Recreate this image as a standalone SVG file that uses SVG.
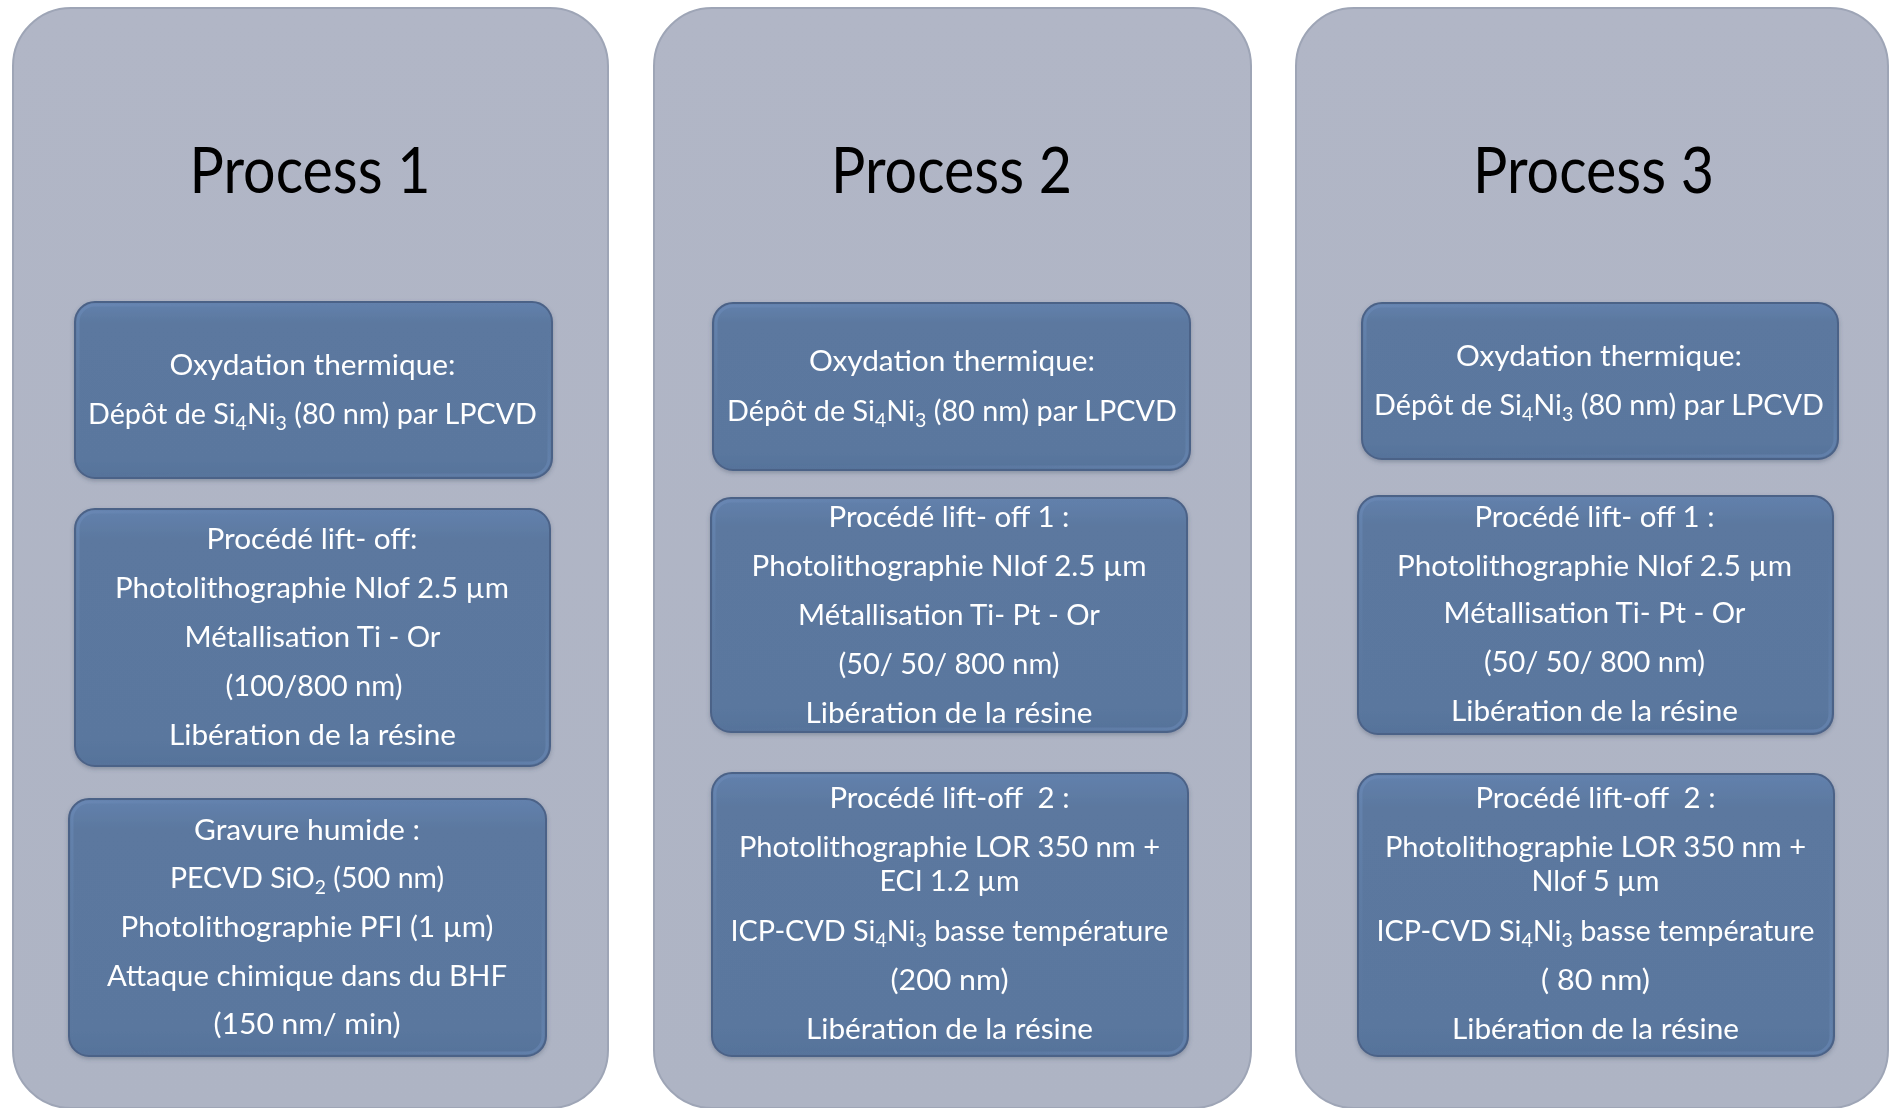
<svg xmlns="http://www.w3.org/2000/svg" width="1893" height="1108" viewBox="0 0 1893 1108">
  <style>
    .panel { fill: url(#panelFill); stroke: #9ea5b6; stroke-width: 2; }
    .box { fill: url(#boxFill); stroke: #4c6287; stroke-width: 2; }
    .bevel { fill: none; stroke: url(#bevelStroke); stroke-width: 3; }
    .title { font-family: Lato, "Open Sans", "Liberation Sans", sans-serif; font-size: 64px; fill: #000; text-anchor: middle; }
    .t { font-family: Lato, "Open Sans", "Liberation Sans", sans-serif; font-size: 28px; fill: #fff; text-anchor: middle; }
    .sub { font-size: 19px; }
  </style>
  <defs>
    <linearGradient id="panelFill" x1="0" y1="0" x2="0" y2="1">
      <stop offset="0" stop-color="#b1b6c6"/>
      <stop offset="1" stop-color="#aeb4c4"/>
    </linearGradient>
    <linearGradient id="boxFill" x1="0" y1="0" x2="0" y2="1">
      <stop offset="0" stop-color="#6381ad"/>
      <stop offset="0.12" stop-color="#5b789f"/>
      <stop offset="0.9" stop-color="#5a779e"/>
      <stop offset="1" stop-color="#56729a"/>
    </linearGradient>
    <linearGradient id="bevelStroke" x1="0" y1="0" x2="1" y2="1">
      <stop offset="0" stop-color="#6a89b6" stop-opacity="0.7"/>
      <stop offset="0.5" stop-color="#5b789f" stop-opacity="0"/>
      <stop offset="1" stop-color="#6a89b6" stop-opacity="0.6"/>
    </linearGradient>
    <filter id="shadow" x="-5%" y="-5%" width="110%" height="115%">
      <feGaussianBlur in="SourceAlpha" stdDeviation="2"/>
      <feOffset dx="0" dy="2" result="b"/>
      <feFlood flood-color="#3c4a60" flood-opacity="0.35"/>
      <feComposite in2="b" operator="in"/>
      <feMerge><feMergeNode/><feMergeNode in="SourceGraphic"/></feMerge>
    </filter>
  </defs>

  <rect width="1893" height="1108" fill="#ffffff"/>

  <!-- Process 1 column -->
  <g id="process1">
    <rect class="panel" x="13" y="8" width="595" height="1100" rx="58"/>
    <text class="title" x="310" y="193" textLength="241" lengthAdjust="spacingAndGlyphs">Process 1</text>

    <g id="p1-oxydation" filter="url(#shadow)">
      <rect class="box" x="75" y="302" width="477" height="176" rx="20"/>
      <rect class="bevel" x="78" y="305" width="471" height="170" rx="17"/>
      <text class="t" x="312.5" y="375" textLength="286" lengthAdjust="spacingAndGlyphs">Oxydation thermique:</text>
      <text class="t" x="312.5" y="424" textLength="449" lengthAdjust="spacingAndGlyphs">Dépôt de Si<tspan class="sub" dy="6">4</tspan><tspan dy="-6">Ni</tspan><tspan class="sub" dy="6">3</tspan><tspan dy="-6"> (80 nm) par LPCVD</tspan></text>
    </g>

    <g id="p1-liftoff" filter="url(#shadow)">
      <rect class="box" x="75" y="509" width="475" height="257" rx="20"/>
      <rect class="bevel" x="78" y="512" width="469" height="251" rx="17"/>
      <text class="t" x="312" y="548.5" textLength="211" lengthAdjust="spacingAndGlyphs">Procédé lift- off:</text>
      <text class="t" x="312" y="598" textLength="394" lengthAdjust="spacingAndGlyphs">Photolithographie Nlof 2.5 µm</text>
      <text class="t" x="312.5" y="646.5" textLength="256" lengthAdjust="spacingAndGlyphs">Métallisation Ti - Or</text>
      <text class="t" x="314" y="695.5" textLength="177" lengthAdjust="spacingAndGlyphs">(100/800 nm)</text>
      <text class="t" x="312.5" y="745" textLength="287" lengthAdjust="spacingAndGlyphs">Libération de la résine</text>
    </g>

    <g id="p1-gravure" filter="url(#shadow)">
      <rect class="box" x="69" y="799" width="477" height="257" rx="20"/>
      <rect class="bevel" x="72" y="802" width="471" height="251" rx="17"/>
      <text class="t" x="307" y="839.5" textLength="226" lengthAdjust="spacingAndGlyphs">Gravure humide :</text>
      <text class="t" x="307" y="888" textLength="274" lengthAdjust="spacingAndGlyphs">PECVD SiO<tspan class="sub" dy="6">2</tspan><tspan dy="-6"> (500 nm)</tspan></text>
      <text class="t" x="307" y="937" textLength="373" lengthAdjust="spacingAndGlyphs">Photolithographie PFI (1 µm)</text>
      <text class="t" x="307" y="985.5" textLength="400" lengthAdjust="spacingAndGlyphs">Attaque chimique dans du BHF</text>
      <text class="t" x="307" y="1034" textLength="187" lengthAdjust="spacingAndGlyphs">(150 nm/ min)</text>
    </g>
  </g>

  <!-- Process 2 column -->
  <g id="process2">
    <rect class="panel" x="654" y="8" width="597" height="1100" rx="58"/>
    <text class="title" x="951.5" y="193" textLength="241" lengthAdjust="spacingAndGlyphs">Process 2</text>

    <g id="p2-oxydation" filter="url(#shadow)">
      <rect class="box" x="713" y="303" width="477" height="167" rx="20"/>
      <rect class="bevel" x="716" y="306" width="471" height="161" rx="17"/>
      <text class="t" x="952" y="371" textLength="286" lengthAdjust="spacingAndGlyphs">Oxydation thermique:</text>
      <text class="t" x="952" y="420.5" textLength="450" lengthAdjust="spacingAndGlyphs">Dépôt de Si<tspan class="sub" dy="6">4</tspan><tspan dy="-6">Ni</tspan><tspan class="sub" dy="6">3</tspan><tspan dy="-6"> (80 nm) par LPCVD</tspan></text>
    </g>

    <g id="p2-liftoff1" filter="url(#shadow)">
      <rect class="box" x="711" y="498" width="476" height="234" rx="20"/>
      <rect class="bevel" x="714" y="501" width="470" height="228" rx="17"/>
      <text class="t" x="949" y="526.5" textLength="241" lengthAdjust="spacingAndGlyphs">Procédé lift- off 1 :</text>
      <text class="t" x="949" y="576" textLength="395" lengthAdjust="spacingAndGlyphs">Photolithographie Nlof 2.5 µm</text>
      <text class="t" x="949" y="624.5" textLength="302" lengthAdjust="spacingAndGlyphs">Métallisation Ti- Pt - Or</text>
      <text class="t" x="949" y="674" textLength="221" lengthAdjust="spacingAndGlyphs">(50/ 50/ 800 nm)</text>
      <text class="t" x="949" y="723" textLength="287" lengthAdjust="spacingAndGlyphs">Libération de la résine</text>
    </g>

    <g id="p2-liftoff2" filter="url(#shadow)">
      <rect class="box" x="712" y="773" width="476" height="283" rx="20"/>
      <rect class="bevel" x="715" y="776" width="470" height="277" rx="17"/>
      <text class="t" x="949.5" y="808" textLength="240" lengthAdjust="spacingAndGlyphs" xml:space="preserve">Procédé lift-off  2 :</text>
      <text class="t" x="949.5" y="857" textLength="421" lengthAdjust="spacingAndGlyphs">Photolithographie LOR 350 nm +</text>
      <text class="t" x="949.5" y="891" textLength="140" lengthAdjust="spacingAndGlyphs">ECI 1.2 µm</text>
      <text class="t" x="949.5" y="940.5" textLength="438" lengthAdjust="spacingAndGlyphs">ICP-CVD Si<tspan class="sub" dy="6">4</tspan><tspan dy="-6">Ni</tspan><tspan class="sub" dy="6">3</tspan><tspan dy="-6"> basse température</tspan></text>
      <text class="t" x="949.5" y="990" textLength="118" lengthAdjust="spacingAndGlyphs">(200 nm)</text>
      <text class="t" x="949.5" y="1038.5" textLength="287" lengthAdjust="spacingAndGlyphs">Libération de la résine</text>
    </g>
  </g>

  <!-- Process 3 column -->
  <g id="process3">
    <rect class="panel" x="1296" y="8" width="592" height="1100" rx="58"/>
    <text class="title" x="1593.5" y="193" textLength="241" lengthAdjust="spacingAndGlyphs">Process 3</text>

    <g id="p3-oxydation" filter="url(#shadow)">
      <rect class="box" x="1362" y="303" width="476" height="156" rx="20"/>
      <rect class="bevel" x="1365" y="306" width="470" height="150" rx="17"/>
      <text class="t" x="1599" y="366" textLength="286" lengthAdjust="spacingAndGlyphs">Oxydation thermique:</text>
      <text class="t" x="1599" y="414.5" textLength="450" lengthAdjust="spacingAndGlyphs">Dépôt de Si<tspan class="sub" dy="6">4</tspan><tspan dy="-6">Ni</tspan><tspan class="sub" dy="6">3</tspan><tspan dy="-6"> (80 nm) par LPCVD</tspan></text>
    </g>

    <g id="p3-liftoff1" filter="url(#shadow)">
      <rect class="box" x="1358" y="496" width="475" height="238" rx="20"/>
      <rect class="bevel" x="1361" y="499" width="469" height="232" rx="17"/>
      <text class="t" x="1594.5" y="526.5" textLength="240" lengthAdjust="spacingAndGlyphs">Procédé lift- off 1 :</text>
      <text class="t" x="1594.5" y="576" textLength="395" lengthAdjust="spacingAndGlyphs">Photolithographie Nlof 2.5 µm</text>
      <text class="t" x="1594.5" y="623" textLength="302" lengthAdjust="spacingAndGlyphs">Métallisation Ti- Pt - Or</text>
      <text class="t" x="1594.5" y="672" textLength="221" lengthAdjust="spacingAndGlyphs">(50/ 50/ 800 nm)</text>
      <text class="t" x="1594.5" y="721" textLength="287" lengthAdjust="spacingAndGlyphs">Libération de la résine</text>
    </g>

    <g id="p3-liftoff2" filter="url(#shadow)">
      <rect class="box" x="1358" y="774" width="476" height="282" rx="20"/>
      <rect class="bevel" x="1361" y="777" width="470" height="276" rx="17"/>
      <text class="t" x="1595.5" y="808" textLength="240" lengthAdjust="spacingAndGlyphs" xml:space="preserve">Procédé lift-off  2 :</text>
      <text class="t" x="1595.5" y="857" textLength="421" lengthAdjust="spacingAndGlyphs">Photolithographie LOR 350 nm +</text>
      <text class="t" x="1595.5" y="891" textLength="128" lengthAdjust="spacingAndGlyphs">Nlof 5 µm</text>
      <text class="t" x="1595.5" y="940.5" textLength="438" lengthAdjust="spacingAndGlyphs">ICP-CVD Si<tspan class="sub" dy="6">4</tspan><tspan dy="-6">Ni</tspan><tspan class="sub" dy="6">3</tspan><tspan dy="-6"> basse température</tspan></text>
      <text class="t" x="1595.5" y="990" textLength="109" lengthAdjust="spacingAndGlyphs" xml:space="preserve">( 80 nm)</text>
      <text class="t" x="1595.5" y="1038.5" textLength="287" lengthAdjust="spacingAndGlyphs">Libération de la résine</text>
    </g>
  </g>

  <!-- the columns are independent: no connectors between steps -->
  <g id="connectors"/>
</svg>
